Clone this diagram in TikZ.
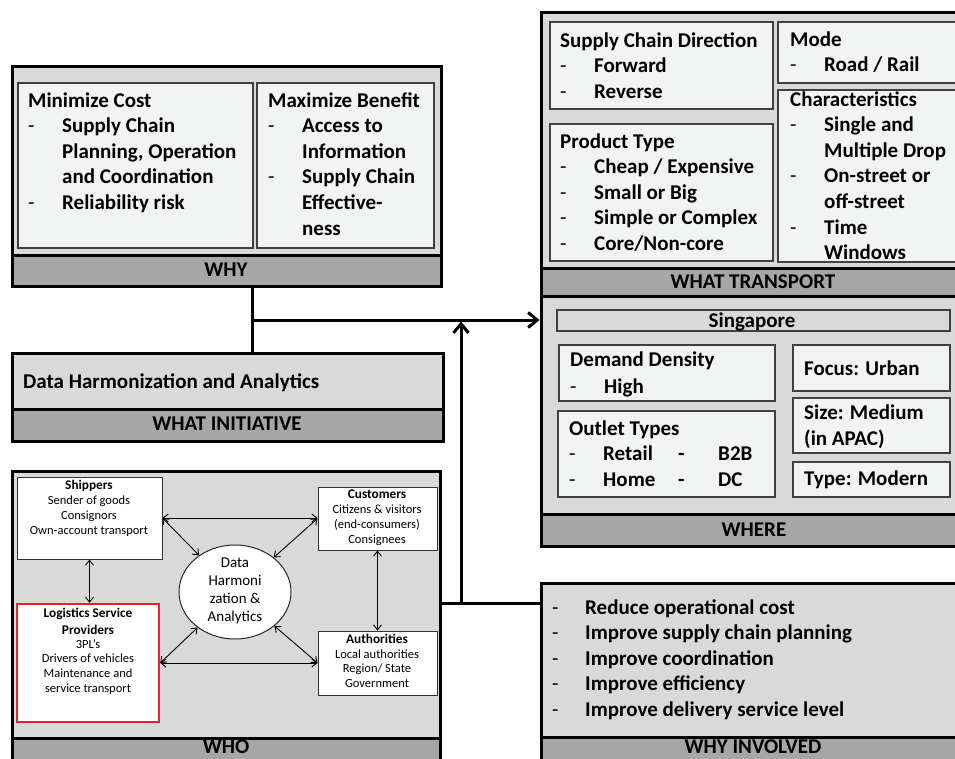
\documentclass[tikz,border=0pt]{standalone}
\usepackage{fontspec}
\setmainfont{Carlito}
\usetikzlibrary{arrows.meta,fit,shapes.geometric}

\definecolor{framefill}{HTML}{D9D9D9}
\definecolor{panelfill}{HTML}{F2F3F3}
\definecolor{barfill}{HTML}{A6A6A6}
\definecolor{lspred}{HTML}{E8202A}

% list helpers: a dash column and a hanging indent of the same width
\newcommand\dsh{\makebox[34pt][l]{\mdseries -}}
\newcommand\ind{\hspace*{34pt}}
% #1 name prefix, #2 x, #3 first baseline, #4 line step, #5 style, #6 lines
\newcommand\tlines[6]{%
  \foreach \itm [count=\i] in {#6} {%
    \node[#5] (#1-\i) at ({#2},{#3+(\i-1)*#4}) {\itm};}}

\tikzset{
  frm/.style={draw=black, line width=3pt, fill=framefill, inner sep=0pt},
  barbox/.style={draw=black, line width=3pt, fill=barfill, inner sep=0pt},
  barlabel/.style={inner sep=0pt, font=\bfseries\fontsize{21}{25}\selectfont},
  pnl/.style={draw=black!75, line width=1.2pt, fill=panelfill, inner sep=0pt},
  whobox/.style={draw=black!80, line width=1pt, fill=white, inner sep=0pt},
  txt/.style={anchor=base west, inner sep=0pt, font=\bfseries\fontsize{21}{25.6}\selectfont},
  whotxt/.style={anchor=base, inner sep=0pt, font=\fontsize{12.5}{15}\selectfont},
  whohead/.style={anchor=base, inner sep=0pt, font=\bfseries\fontsize{13.3}{16}\selectfont},
  dhtxt/.style={anchor=base, inner sep=0pt, font=\fontsize{15}{18}\selectfont},
  conn/.style={line width=3pt},
  bigarrow/.style={conn, -{Straight Barb[length=9pt,width=15pt]}},
  warr/.style={line width=0.9pt, <->, >={Straight Barb[length=5pt,width=8pt]}}
}

\begin{document}
\begin{tikzpicture}[x=1pt,y=-1pt]
\useasboundingbox (0,0) rectangle (955,758);
\clip (0,0) rectangle (955,758);

% ---------------- WHY ----------------
\node[frm, fit={(12,66)(441,286)}] (whyf) {};
\node[barbox, fit={(12,255)(441,286)}] (whyb) {};
\node[barlabel] (whyl) at (226,270) {WHY};
\node[pnl, fit={(18,83)(253,248)}] (mincost) {};
\node[pnl, fit={(257,83)(434,248)}] (maxben) {};
\tlines{mc}{28}{107}{25.6}{txt}{{Minimize Cost},{\dsh Supply Chain},{\ind Planning, Operation},{\ind and Coordination},{\dsh Reliability risk}}
\tlines{mb}{268}{107}{25.6}{txt}{{Maximize Benefit},{\dsh Access to},{\ind Information},{\dsh Supply Chain},{\ind Effective-},{\ind ness}}

% ---------------- WHAT TRANSPORT ----------------
\node[frm, fit={(541,12)(965,296)}] (wtf) {};
\node[barbox, fit={(541,268)(965,296)}] (wtb) {};
\node[barlabel] (wtl) at (753,282) {WHAT TRANSPORT};
\node[pnl, fit={(550,22)(773,109)}] (scd) {};
\node[pnl, fit={(778,22)(962,83)}] (mode) {};
\node[pnl, fit={(550,124)(773,261)}] (prod) {};
\node[pnl, fit={(778,90)(962,262)}] (chars) {};
\tlines{sd}{560}{47}{25.5}{txt}{{Supply Chain Direction},{\dsh Forward},{\dsh Reverse}}
\tlines{pt}{560}{148}{25.5}{txt}{{Product Type},{\dsh Cheap / Expensive},{\dsh Small or Big},{\dsh Simple or Complex},{\dsh Core/Non-core}}
\tlines{md}{790}{46}{25.5}{txt}{{Mode},{\dsh Road / Rail}}
\tlines{ch}{790}{106}{25.6}{txt}{{Characteristics},{\dsh Single and},{\ind Multiple Drop},{\dsh On-street or},{\ind off-street},{\dsh Time},{\ind Windows}}

% ---------------- WHERE ----------------
\node[frm, fit={(541,296)(965,546)}] (wheref) {};
\node[barbox, fit={(541,514)(965,546)}] (whereb) {};
\node[barlabel] (wherel) at (754,530) {WHERE};
\node[pnl, fill=framefill, fit={(557,310)(950,331)}] (sing) {};
\node[barlabel] (singl) at (752,322) {Singapore};
\node[pnl, fit={(559,345)(775,401)}] (dem) {};
\node[pnl, fit={(558,411)(775,497)}] (outl) {};
\node[pnl, fit={(793,345)(950,391)}] (focus) {};
\node[pnl, fit={(793,398)(950,453)}] (size) {};
\node[pnl, fit={(793,462)(950,497)}] (typ) {};
\tlines{dd}{570}{366}{27}{txt}{{Demand Density},{\dsh High}}
\tlines{ot}{569}{435}{25.5}{txt}{{Outlet Types},{\dsh\makebox[75pt][l]{Retail}\makebox[40pt][l]{-}B2B},{\dsh\makebox[75pt][l]{Home}\makebox[40pt][l]{-}DC}}
\tlines{fc}{804}{375}{25.5}{txt}{{Focus: Urban}}
\tlines{sz}{804}{419}{26}{txt}{{Size: Medium},{(in APAC)}}
\tlines{ty}{804}{485}{25.5}{txt}{{Type: Modern}}

% ---------------- WHAT INITIATIVE ----------------
\node[frm, fit={(12,353)(443,441)}] (initf) {};
\node[barbox, fit={(12,409)(443,441)}] (initb) {};
\node[barlabel] (initl) at (227,424) {WHAT INITIATIVE};
\node[txt] (dha) at (23,388) {Data Harmonization and Analytics};

% ---------------- WHO ----------------
\node[frm, fit={(12,471)(440,790)}] (whof) {};
\node[barbox, fit={(12,738)(440,790)}] (whob) {};
\node[barlabel] (whol) at (226,747) {WHO};
\node[whobox, fit={(17,477)(162,559)}] (shp) {};
\node[whobox, fit={(318,487)(437,550)}] (cus) {};
\node[whobox, draw=lspred, line width=2.5pt, fit={(17,604)(159,722)}] (lsp) {};
\node[whobox, fit={(318,631)(437,695)}] (aut) {};
\node[ellipse, draw=black!85, line width=1pt, fill=white, minimum width=112pt, minimum height=94pt, inner sep=0pt] (dh) at (235,592) {};

\node[whohead] (shp-t) at (89,489) {Shippers};
\tlines{sh}{89}{504}{15}{whotxt}{{Sender of goods},{Consignors},{Own-account transport}}
\node[whohead] (cus-t) at (377,498) {Customers};
\tlines{cu}{377}{513}{15}{whotxt}{{Citizens \& visitors},{(end-consumers)},{Consignees}}
\tlines{lh}{88}{617}{17}{whohead}{{Logistics Service},{Providers}}
\tlines{lp}{88}{648}{14.7}{whotxt}{{3PL’s},{Drivers of vehicles},{Maintenance and},{service transport}}
\node[whohead] (aut-t) at (377,643) {Authorities};
\tlines{au}{377}{658}{14.7}{whotxt}{{Local authorities},{Region/ State},{Government}}
\tlines{dt}{235}{567}{18.3}{dhtxt}{{Data},{Harmoni},{zation \&},{Analytics}}

\draw[warr] (shp.east) -- (shp.east -| cus.west);
\draw[warr] (lsp.east) -- (lsp.east -| aut.west);
\draw[warr] (shp.south) -- (shp.south |- lsp.north);
\draw[warr] (cus.south) -- (cus.south |- aut.north);
\draw[warr] (shp.east) -- (dh);
\draw[warr] (cus.west) -- (dh);
\draw[warr] (lsp.east) -- (dh);
\draw[warr] (aut.west) -- (dh);

% ---------------- WHY INVOLVED ----------------
\node[frm, fit={(541,583)(965,790)}] (whyinvf) {};
\node[barbox, fit={(541,737)(965,790)}] (whyinvb) {};
\node[barlabel] (whyinvl) at (753,747) {WHY INVOLVED};
\tlines{wi}{552}{614}{25.6}{txt}{{\makebox[33pt][l]{\mdseries -}Reduce operational cost},{\makebox[33pt][l]{\mdseries -}Improve supply chain planning},{\makebox[33pt][l]{\mdseries -}Improve coordination},{\makebox[33pt][l]{\mdseries -}Improve efficiency},{\makebox[33pt][l]{\mdseries -}Improve delivery service level}}

% ---------------- connectors ----------------
\coordinate (j1) at (252,320);
\coordinate (j2) at (461,603);
\draw[conn] (whyb.south -| j1) -- (initf.north -| j1);
\draw[bigarrow] (j1) -- (j1 -| wheref.west);
\draw[conn] (whof.east |- j2) -- (whyinvf.west |- j2);
\draw[bigarrow, shorten >=1.5pt] (j2) -- (j2 |- j1);
\end{tikzpicture}
\end{document}
